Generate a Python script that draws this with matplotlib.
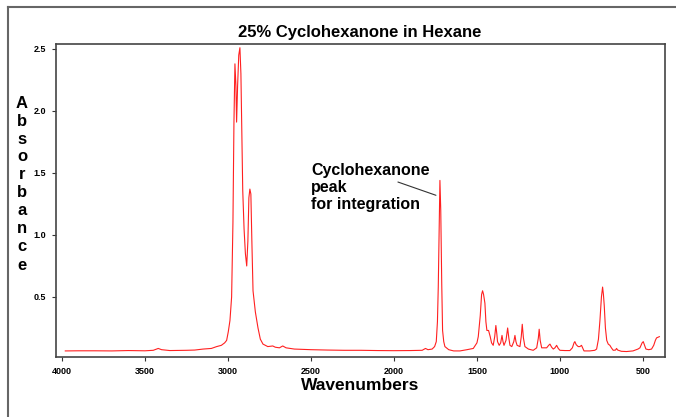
import matplotlib
matplotlib.use("Agg")
import matplotlib.pyplot as plt
from matplotlib.lines import Line2D

plt.rcParams['font.family'] = ['Liberation Sans', 'DejaVu Sans']

# spectrum (wavenumber, absorbance)
wavenumbers = [
    3980, 3900, 3800, 3700, 3600, 3500, 3450, 3420, 3400, 3350, 3250, 3200,
    3150, 3100, 3068, 3040, 3020, 3008, 2998, 2988, 2978, 2970, 2964, 2958,
    2952, 2948, 2942, 2935, 2928, 2922, 2916, 2911, 2903, 2895, 2887, 2880,
    2874, 2868, 2862, 2856, 2849, 2835, 2819, 2805, 2789, 2760, 2730, 2715,
    2690, 2670, 2650, 2600, 2500, 2400, 2300, 2200, 2100, 2000, 1900, 1830,
    1810, 1795, 1770, 1755, 1745, 1738, 1733, 1728, 1723, 1718, 1712, 1707,
    1700, 1693, 1670, 1640, 1602, 1560, 1522, 1500, 1492, 1480, 1472, 1466,
    1460, 1452, 1446, 1440, 1430, 1420, 1412, 1402, 1393, 1386, 1380, 1376,
    1366, 1357, 1349, 1343, 1337, 1325, 1315, 1308, 1301, 1290, 1278, 1271,
    1265, 1258, 1241, 1233, 1227, 1220, 1211, 1190, 1161, 1140, 1130, 1125,
    1119, 1110, 1080, 1068, 1060, 1050, 1040, 1030, 1020, 1010, 1000, 970,
    940, 925, 915, 910, 902, 890, 880, 870, 862, 855, 820, 790,
    779, 768, 759, 750, 743, 738, 733, 726, 718, 709, 699, 690,
    679, 665, 659, 652, 630, 599, 560, 530, 518, 505, 498, 490,
    482, 465, 448, 435, 425, 418, 410, 401,
]
absorbance = [
    0.065, 0.066, 0.066, 0.065, 0.068, 0.066, 0.070, 0.085, 0.075, 0.068, 0.070, 0.072,
    0.080, 0.085, 0.10, 0.11, 0.13, 0.15, 0.22, 0.31, 0.50, 1.10, 1.90, 2.38,
    2.20, 1.91, 2.20, 2.45, 2.51, 2.30, 1.80, 1.36, 1.05, 0.85, 0.75, 0.95,
    1.30, 1.37, 1.33, 0.95, 0.55, 0.38, 0.25, 0.16, 0.12, 0.10, 0.105, 0.095,
    0.09, 0.105, 0.09, 0.08, 0.075, 0.072, 0.07, 0.07, 0.068, 0.067, 0.068, 0.07,
    0.085, 0.075, 0.08, 0.10, 0.14, 0.30, 0.58, 1.00, 1.44, 1.20, 0.60, 0.23,
    0.14, 0.10, 0.075, 0.065, 0.065, 0.075, 0.085, 0.13, 0.18, 0.35, 0.52, 0.55,
    0.52, 0.45, 0.30, 0.23, 0.23, 0.18, 0.13, 0.11, 0.18, 0.27, 0.20, 0.14,
    0.11, 0.13, 0.19, 0.14, 0.11, 0.15, 0.25, 0.17, 0.11, 0.10, 0.14, 0.19,
    0.14, 0.11, 0.10, 0.18, 0.28, 0.17, 0.10, 0.08, 0.07, 0.09, 0.17, 0.24,
    0.15, 0.09, 0.09, 0.11, 0.12, 0.095, 0.08, 0.09, 0.11, 0.085, 0.07, 0.068,
    0.068, 0.09, 0.13, 0.14, 0.115, 0.10, 0.10, 0.11, 0.085, 0.065, 0.065, 0.07,
    0.08, 0.16, 0.31, 0.50, 0.58, 0.52, 0.43, 0.25, 0.15, 0.12, 0.11, 0.09,
    0.07, 0.072, 0.085, 0.072, 0.062, 0.06, 0.065, 0.08, 0.09, 0.13, 0.14, 0.11,
    0.08, 0.075, 0.08, 0.11, 0.15, 0.17, 0.175, 0.18,
]

x_ticks = [4000, 3500, 3000, 2500, 2000, 1500, 1000, 500]
y_ticks = [0.5, 1.0, 1.5, 2.0, 2.5]

title = "25% Cyclohexanone in Hexane"
note = "Cyclohexanone\npeak\nfor integration"
note_pos = (2500, 1.58)
pointer_start = (1976, 1.427)
pointer_end = (1747, 1.32)

fig = plt.figure(figsize=(6.76, 4.17), dpi=100)
ax = fig.add_axes([56 / 676, 1 - 357 / 417, (665 - 56) / 676, (357 - 44) / 417])

ax.plot(wavenumbers, absorbance, color='#ff2020', lw=0.8)

ax.set_xlim(4036, 367)
ax.set_ylim(0.016, 2.54)
ax.set_xticks(x_ticks)
ax.set_xticklabels([str(t) for t in x_ticks], fontsize=6.5, fontweight='bold')
ax.set_yticks(y_ticks)
ax.set_yticklabels([f"{t:.1f}" for t in y_ticks], fontsize=6.5, fontweight='bold')
ax.tick_params(direction='out', length=3, width=0.8, color='#333333', pad=4)
for s in ax.spines.values():
    s.set_color('#444444')
    s.set_linewidth(1.2)

ax.text(*note_pos, note, fontsize=11.5, fontweight='bold', va='top', ha='left',
        linespacing=1.15)
ax.annotate('', xy=pointer_end, xytext=pointer_start,
            arrowprops=dict(arrowstyle='-', color='#333333', lw=0.8,
                            shrinkA=0, shrinkB=0))

fig.text(360 / 676, 1 - 32 / 417, title, fontsize=12, fontweight='bold',
         ha='center', va='center')
fig.text(360 / 676, 1 - 386 / 417, "Wavenumbers", fontsize=12.5, fontweight='bold',
         ha='center', va='center')
fig.text(22 / 676, 1 - 184 / 417, "\n".join("Absorbance"), fontsize=12,
         fontweight='bold', ha='center', va='center', linespacing=1.25,
         multialignment='center')

# outer frame, only its top and left edges fall inside the image
fy = 1 - 7 / 417
fx = 8 / 676
fig.add_artist(Line2D([fx, 1.0], [fy, fy], transform=fig.transFigure,
                      color='#666666', lw=1.5))
fig.add_artist(Line2D([fx, fx], [0.0, fy], transform=fig.transFigure,
                      color='#666666', lw=1.5))

fig.savefig("out.png", dpi=100)
